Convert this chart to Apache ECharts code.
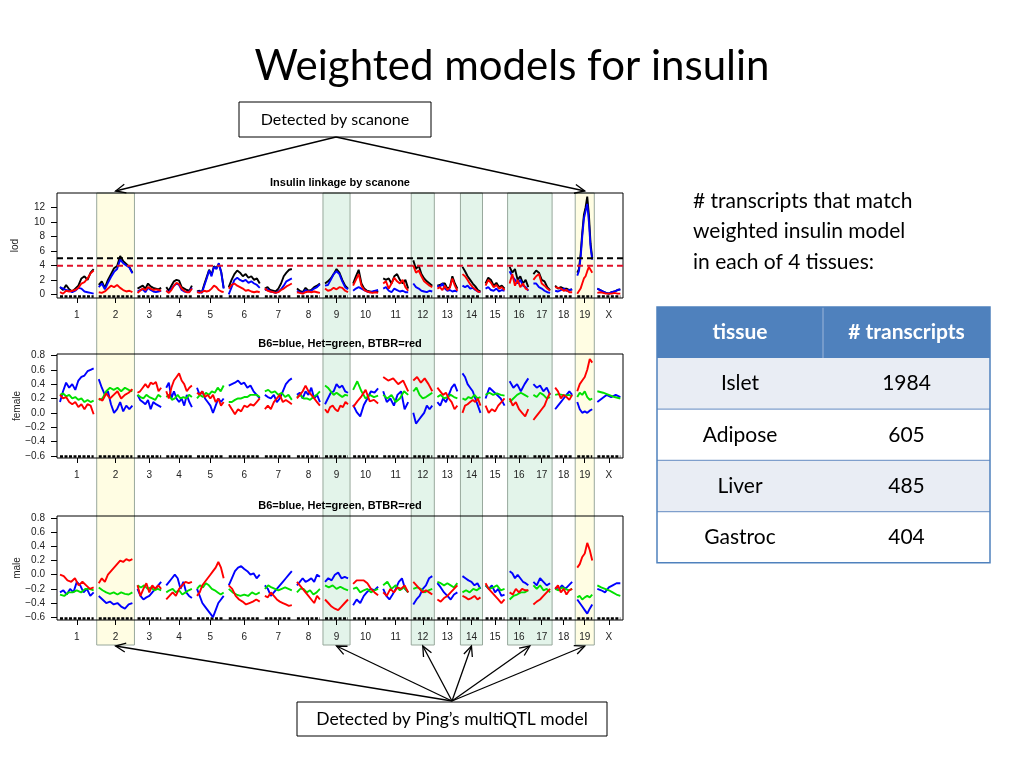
<!DOCTYPE html>
<html><head><meta charset="utf-8">
<script src="https://cdn.jsdelivr.net/npm/echarts@6/dist/echarts.min.js"></script>
<style>html,body{margin:0;padding:0;background:#fff}#c{width:1024px;height:768px}</style>
</head><body><div id="c"></div>
<script>
// ---------- DATA ----------
const chrNames = ['1','2','3','4','5','6','7','8','9','10','11','12','13','14','15','16','17','18','19','X'];
const chrLenCM = [101,101,71,77,80,93,81,69,69,75,75,57,60,54,57,56,50,51,45,69];
const gapCM = 15.3;
const lodThresholds = [5.0, 3.95];
const lodTicks = [0,2,4,6,8,10,12];
const effTicks = [-0.6,-0.4,-0.2,0,0.2,0.4,0.6,0.8];

const lodBlack = [
 [1.0,0.6,1.3,0.7,0.4,0.8,1.2,2.2,2.5,2.0,3.0,3.5],
 [1.3,1.8,0.9,2.0,2.8,3.6,3.9,5.3,4.6,4.2,3.8,3.0],
 [0.8,1.0,1.2,0.8,1.5,1.1,0.9,0.8,0.7,0.9],
 [1.0,0.5,1.2,1.8,2.0,1.9,1.0,0.8,0.6,0.5,1.2],
 [0.4,0.5,0.3,1.4,2.4,3.4,2.7,3.9,3.6,4.2,3.1,0.9],
 [1.0,2.0,2.8,3.3,3.0,2.5,2.8,2.3,2.5,2.0,2.2,1.5],
 [0.8,1.0,0.6,0.5,0.4,0.8,1.5,2.5,3.0,3.4,3.5],
 [0.8,0.5,0.3,0.9,0.5,0.6,1.0,1.2,1.5],
 [1.5,1.8,2.2,2.8,3.5,3.0,2.0,1.2,0.8],
 [1.5,2.5,3.4,1.5,0.8,0.5,0.4,0.3,0.5,0.3],
 [2.2,2.0,2.2,1.5,2.5,2.8,2.0,1.5,2.0,0.8],
 [4.7,3.5,4.0,2.8,2.2,1.8,1.5,1.2],
 [1.2,1.3,1.5,1.5,0.8,1.0,2.5,1.5,0.8],
 [3.8,3.2,2.5,2.0,1.5,1.1,0.6,0.4],
 [1.5,2.3,2.0,1.2,1.6,1.0,1.2,0.8],
 [3.8,3.0,3.5,2.0,2.5,1.5,2.0,1.0],
 [2.8,3.3,3.0,2.0,1.8,1.0,0.6],
 [1.2,0.8,1.0,0.8,0.8,0.6,0.7],
 [3.0,3.5,5.5,8.5,11.0,12.0,13.5,11.0,7.0,5.0],
 [0.8,0.6,0.4,0.2,0.1,0.3,0.4,0.6,0.7]
];
const lodBlue = [
 [1.0,0.8,0.6,0.5,0.3,0.5,0.9,0.8,0.4,0.3,0.2,0.1],
 [1.0,1.5,0.7,1.6,2.4,3.1,3.5,4.8,4.3,4.0,3.7,2.9],
 [0.4,0.6,0.7,0.3,0.9,0.6,0.4,0.3,0.4,0.5],
 [0.5,0.3,0.8,1.2,1.5,1.3,0.6,0.4,0.3,0.4,0.9],
 [0.3,0.4,0.2,1.2,2.2,3.3,2.5,3.8,3.5,4.3,3.0,0.8],
 [0.0,1.0,2.0,2.3,2.0,1.8,2.0,1.6,1.8,1.5,1.3,0.9],
 [0.6,0.7,0.4,0.3,0.2,0.4,0.7,1.2,1.8,2.0,2.2],
 [0.5,0.3,0.2,0.6,0.4,0.5,0.8,1.0,1.4],
 [1.2,1.3,2.0,2.8,3.2,2.8,1.8,1.0,0.7],
 [0.5,0.8,1.0,0.8,0.6,0.4,0.3,0.4,0.5,0.6],
 [0.8,1.0,0.5,0.3,0.8,0.6,0.4,0.5,0.3,0.3],
 [1.5,1.0,0.8,0.5,0.4,0.3,0.5,0.4],
 [1.2,1.0,1.5,0.8,0.5,0.6,0.4,0.5,0.4],
 [1.2,1.0,1.2,0.8,0.9,0.6,0.4,0.3],
 [0.8,1.0,0.6,0.5,0.8,0.4,0.6,0.5],
 [3.2,2.5,2.0,1.5,2.0,1.2,1.0,0.5],
 [1.5,1.5,1.0,0.8,0.5,0.3,0.2],
 [0.5,0.4,0.6,0.8,0.5,0.6,0.7],
 [2.6,3.2,5.0,8.0,10.5,11.5,12.5,10.0,6.5,4.8],
 [0.8,0.6,0.4,0.2,0.1,0.3,0.4,0.6,0.7]
];
const lodRed = [
 [0.3,0.1,0.5,0.4,0.5,0.6,0.9,1.5,1.7,2.2,2.9,3.3],
 [0.3,0.2,0.4,0.8,1.2,1.0,1.3,0.9,0.6,0.4,0.5,0.3],
 [0.2,0.5,0.8,0.6,1.0,0.8,0.6,0.7,0.6,0.5],
 [0.5,0.2,0.6,1.2,1.6,1.4,0.8,0.5,0.3,0.3,0.8],
 [0.3,0.2,0.3,0.5,0.4,0.5,0.8,1.2,1.0,0.6,0.4,0.3],
 [0.8,1.3,1.5,1.2,1.0,0.8,0.5,0.6,0.4,0.3,0.4,0.3],
 [0.8,0.5,0.4,0.3,0.2,0.3,0.6,0.8,1.1,1.3,1.5],
 [0.3,0.2,0.1,0.3,0.4,0.3,0.4,0.3,0.2],
 [0.8,0.5,0.6,0.9,0.7,1.0,0.9,0.5,0.3],
 [1.2,2.0,2.8,1.2,0.6,0.4,0.3,0.2,0.3,0.2],
 [1.5,1.8,0.8,1.5,2.3,1.8,1.5,2.0,1.0,0.5],
 [4.0,3.0,3.3,2.5,1.8,1.5,1.2,1.0],
 [0.8,1.0,0.6,1.2,0.6,0.9,2.2,1.2,0.5],
 [2.8,2.5,2.0,1.4,1.0,0.7,0.4,0.3],
 [1.2,2.0,1.6,1.0,1.3,0.8,1.0,0.6],
 [1.5,2.8,1.2,2.0,1.0,1.5,0.8,0.6],
 [2.0,2.5,2.8,1.5,1.2,0.8,0.5],
 [1.0,0.9,0.8,0.5,0.6,0.3,0.3],
 [0.1,0.3,0.8,1.5,2.2,2.5,3.2,3.8,3.6,3.0],
 [0.2,0.3,0.2,0.1,0.1,0.1,0.2,0.1,0.1]
];

const femBlue = [
 [0.15,0.3,0.42,0.35,0.4,0.32,0.45,0.5,0.52,0.58,0.6,0.62],
 [0.47,0.35,0.25,0.3,0.12,0.0,0.05,0.15,0.02,0.1,0.05,0.1],
 [0.25,0.18,0.15,0.12,0.18,0.05,0.15,0.12,0.1,0.08],
 [0.35,0.42,0.2,0.3,0.2,0.15,0.2,0.1,0.25,0.15,0.08],
 [0.35,0.25,0.3,0.2,0.15,0.1,0.0,0.1,0.2,0.15,0.2],
 [0.38,0.4,0.42,0.45,0.4,0.42,0.35,0.38,0.3,0.25,0.2],
 [0.25,0.22,0.2,0.25,0.15,0.2,0.3,0.4,0.45,0.48],
 [0.25,0.28,0.2,0.3,0.25,0.35,0.2,0.25,0.15],
 [0.12,0.2,0.28,0.3,0.4,0.35,0.38,0.3,0.28],
 [0.11,0.01,-0.05,0.11,0.2,0.3,0.28,0.34],
 [0.3,0.15,0.2,0.1,0.25,0.3,0.05,0.15],
 [0.0,-0.15,-0.1,-0.05,0.0,0.1,0.05,0.1],
 [0.15,0.1,0.2,0.15,0.25,0.35,0.4,0.3],
 [0.55,0.5,0.4,0.35,0.3,0.2,0.1,0.0],
 [0.2,0.35,0.3,0.25,0.2,0.1],
 [0.44,0.35,0.4,0.3,0.4,0.48],
 [0.4,0.35,0.38,0.3,0.35,0.25],
 [0.05,0.1,0.15,0.2,0.25,0.3,0.25],
 [0.15,0.05,0.0,0.02,0.0,0.03,0.05],
 [0.15,0.2,0.25,0.22,0.25,0.22]
];
const femGreen = [
 [0.25,0.27,0.23,0.25,0.2,0.22,0.18,0.2,0.15,0.18,0.15,0.17],
 [0.18,0.2,0.3,0.35,0.32,0.35,0.3,0.35,0.32,0.3],
 [0.25,0.22,0.2,0.25,0.22,0.2,0.18,0.25,0.22],
 [0.22,0.25,0.18,0.2,0.25,0.2,0.22,0.2,0.25,0.22],
 [0.2,0.25,0.22,0.28,0.25,0.3,0.28,0.35,0.3,0.38],
 [0.15,0.15,0.18,0.2,0.2,0.22,0.22,0.25,0.25,0.25,0.22],
 [0.3,0.32,0.28,0.3,0.25,0.28,0.22,0.25,0.18],
 [0.22,0.25,0.2,0.2,0.18,0.22,0.25,0.3],
 [0.38,0.35,0.3,0.25,0.28,0.25,0.22,0.25,0.24],
 [0.32,0.44,0.3,0.2,0.25,0.22,0.24],
 [0.25,0.2,0.25,0.15,0.2,0.3,0.25],
 [0.3,0.35,0.25,0.2,0.22,0.25,0.28],
 [0.22,0.25,0.2,0.22,0.25,0.22,0.2],
 [0.2,0.18,0.22,0.2,0.25,0.2,0.22],
 [0.25,0.28,0.25,0.27,0.25,0.24],
 [0.15,0.2,0.25,0.28,0.25,0.22],
 [0.25,0.22,0.28,0.25,0.2,0.22],
 [0.25,0.26,0.25,0.24,0.25,0.23],
 [0.22,0.28,0.25,0.3,0.22,0.18,0.2],
 [0.3,0.28,0.25,0.22,0.2]
];
const femRed = [
 [0.25,0.2,0.22,0.15,0.12,0.15,0.08,0.12,0.05,0.12,0.1,-0.02],
 [0.2,0.17,0.27,0.2,0.25,0.3,0.2,0.25,0.28,0.33],
 [0.28,0.3,0.35,0.4,0.35,0.42,0.4,0.43,0.3,0.35],
 [0.3,0.2,0.35,0.45,0.5,0.55,0.45,0.4,0.3,0.35,0.38],
 [0.28,0.25,0.3,0.22,0.25,0.2,0.25,0.15,0.2,0.1,0.15],
 [0.12,0.05,-0.02,0.05,0.02,0.1,0.08,0.12,0.1,0.15,0.2],
 [0.05,0.1,0.05,0.15,0.2,0.25,0.15,0.18,0.15,0.12],
 [0.2,0.25,0.3,0.38,0.3,0.25,0.2,0.15,0.1],
 [0.05,0.0,0.08,0.1,0.05,0.02,0.1,0.08,0.15,0.12],
 [0.08,0.16,0.23,0.32,0.16,0.18,0.13],
 [0.5,0.45,0.48,0.4,0.45,0.3],
 [0.45,0.5,0.42,0.48,0.4,0.3],
 [0.35,0.3,0.25,0.28,0.2,0.15,0.05,0.1],
 [0.0,0.1,0.12,0.15,0.18,0.15,0.2,0.1],
 [0.1,0.0,0.05,0.02,0.1,0.15,0.2],
 [0.2,0.1,0.15,0.05,0.0,-0.05,0.05],
 [-0.1,-0.05,0.0,0.05,0.1,0.2,0.28],
 [0.35,0.3,0.2,0.25,0.22,0.18,0.25],
 [0.3,0.4,0.45,0.5,0.6,0.75,0.7],
 null
];

const malBlue = [
 [-0.25,-0.22,-0.28,-0.2,-0.25,-0.1,-0.15,-0.25,-0.2,-0.3,-0.25],
 [-0.3,-0.35,-0.4,-0.38,-0.42,-0.4,-0.45,-0.48,-0.42,-0.4],
 [-0.2,-0.3,-0.35,-0.32,-0.3,-0.25,-0.2,-0.15,-0.1],
 [-0.15,-0.1,-0.05,0.0,-0.05,-0.2,-0.1,-0.25,-0.3,-0.33],
 [-0.2,-0.3,-0.4,-0.45,-0.5,-0.55,-0.6,-0.5,-0.4,-0.35,-0.3],
 [-0.15,-0.05,0.05,0.1,0.12,0.08,0.05,0.0,0.02,-0.05,0.0],
 [-0.15,-0.2,-0.3,-0.25,-0.2,-0.15,-0.1,-0.05,0.0,0.05],
 [-0.15,-0.1,-0.05,-0.1,-0.08,-0.05,-0.1,0.0,-0.03],
 [-0.1,-0.05,-0.08,0.0,0.03,-0.05,-0.03,-0.05],
 [-0.43,-0.35,-0.4,-0.3,-0.24,-0.2,-0.22,-0.17],
 [-0.2,-0.3,-0.35,-0.28,-0.2,-0.1,-0.05,-0.2,-0.25],
 [-0.42,-0.35,-0.3,-0.2,-0.15,-0.05,-0.02],
 [-0.12,-0.18,-0.25,-0.3,-0.35,-0.28,-0.25],
 [-0.02,-0.05,-0.08,-0.1,-0.15,-0.12,-0.2],
 [-0.15,-0.2,-0.15,-0.25,-0.2,-0.3,-0.28],
 [0.05,0.02,-0.05,0.0,-0.05,-0.1,-0.12,-0.15],
 [-0.1,-0.15,-0.05,-0.1,-0.15,-0.12],
 [-0.18,-0.22,-0.15,-0.2,-0.15,-0.1],
 [-0.35,-0.4,-0.45,-0.5,-0.55,-0.48,-0.42],
 [-0.2,-0.22,-0.25,-0.18,-0.15,-0.12,-0.12]
];
const malGreen = [
 [-0.28,-0.3,-0.25,-0.25,-0.22,-0.25,-0.2,-0.2,-0.22],
 [-0.18,-0.22,-0.25,-0.27,-0.25,-0.28,-0.25,-0.27,-0.28,-0.25],
 [-0.15,-0.18,-0.15,-0.2,-0.18,-0.22,-0.2,-0.22],
 [-0.25,-0.22,-0.2,-0.25,-0.22,-0.28,-0.25,-0.22,-0.2],
 [-0.2,-0.15,-0.18,-0.12,-0.15,-0.2,-0.22,-0.25,-0.28,-0.25],
 [-0.2,-0.25,-0.28,-0.3,-0.28,-0.3,-0.25,-0.28,-0.25],
 [-0.2,-0.15,-0.18,-0.2,-0.22,-0.2,-0.18,-0.2,-0.22],
 [-0.25,-0.2,-0.2,-0.25,-0.22,-0.28,-0.25,-0.2],
 [-0.15,-0.18,-0.15,-0.2,-0.17,-0.2,-0.22],
 [-0.2,-0.18,-0.25,-0.22,-0.2,-0.25,-0.22,-0.2],
 [-0.15,-0.1,-0.2,-0.15,-0.22,-0.18,-0.25],
 [-0.2,-0.18,-0.2,-0.25,-0.22,-0.2],
 [-0.1,-0.12,-0.15,-0.12,-0.15,-0.18,-0.12],
 [-0.25,-0.22,-0.25,-0.2,-0.22,-0.18],
 [-0.15,-0.2,-0.18,-0.15,-0.22,-0.2],
 [-0.35,-0.3,-0.28,-0.25,-0.25,-0.22],
 [-0.15,-0.2,-0.15,-0.22,-0.2,-0.25],
 [-0.2,-0.22,-0.18,-0.2,-0.22,-0.2],
 [-0.32,-0.3,-0.35,-0.32,-0.3,-0.32,-0.28],
 [-0.15,-0.18,-0.2,-0.22,-0.25,-0.28,-0.3]
];
const malRed = [
 [0.0,-0.02,-0.08,-0.1,-0.05,-0.15,-0.1,-0.15,-0.2,-0.18],
 [-0.12,-0.05,-0.1,0.0,0.05,0.1,0.15,0.2,0.18,0.22,0.2,0.22],
 [-0.15,-0.3,-0.2,-0.12,-0.25,-0.15,-0.2,-0.15,-0.2],
 [-0.35,-0.3,-0.25,-0.3,-0.2,-0.15,-0.1,-0.12,-0.1],
 [-0.3,-0.25,-0.15,-0.1,-0.05,0.0,0.05,0.1,0.18,0.1,-0.05],
 [-0.15,-0.2,-0.3,-0.35,-0.38,-0.42,-0.4,-0.38,-0.35,-0.38],
 [-0.3,-0.32,-0.25,-0.3,-0.35,-0.38,-0.4,-0.42,-0.44,-0.43],
 [-0.1,-0.15,-0.2,-0.25,-0.3,-0.35,-0.4,-0.3,-0.35],
 [-0.35,-0.4,-0.45,-0.48,-0.5,-0.45,-0.4,-0.35],
 [-0.13,-0.08,-0.08,-0.08,-0.12,-0.2,-0.25,-0.29],
 [-0.25,-0.3,-0.2,-0.25,-0.18,-0.2,-0.15,-0.25],
 [-0.1,-0.15,-0.2,-0.25,-0.22,-0.25,-0.28],
 [-0.35,-0.38,-0.33,-0.3,-0.25,-0.2,-0.15],
 [-0.3,-0.32,-0.35,-0.33,-0.3,-0.35,-0.32],
 [-0.12,-0.2,-0.25,-0.3,-0.35,-0.4,-0.35],
 [-0.25,-0.28,-0.2,-0.25,-0.2,-0.22,-0.22],
 [-0.42,-0.38,-0.35,-0.3,-0.25,-0.2],
 [-0.2,-0.15,-0.25,-0.2,-0.28,-0.22,-0.2],
 [0.1,0.15,0.25,0.3,0.45,0.35,0.2],
 null
];

const highlightBands = [
 {chrs:['2'], kind:'yellow'}, {chrs:['9'], kind:'green'}, {chrs:['12'], kind:'green'},
 {chrs:['14'], kind:'green'}, {chrs:['16','17'], kind:'green'}, {chrs:['19'], kind:'yellow'}
];
const scanoneChrs = ['2','19'];
const panelTitles = ['Insulin linkage by scanone', 'B6=blue, Het=green, BTBR=red', 'B6=blue, Het=green, BTBR=red'];
const panelYNames = ['lod', 'female', 'male'];
const titleText = 'Weighted models for insulin';
const scanoneLabel = 'Detected by scanone';
const multiLabel = 'Detected by Ping\u2019s multiQTL model';
const noteLines = ['# transcripts that match', 'weighted insulin model', 'in each of 4 tissues:'];
const tableHeader = ['tissue', '# transcripts'];
const tissues = ['Islet', 'Adipose', 'Liver', 'Gastroc'];
const transcripts = [1984, 605, 485, 404];

// ---------- BUILD ----------
const chrStart = [];
let acc = 0;
chrLenCM.forEach(L => { chrStart.push(acc); acc += L + gapCM; });
const chrEnd = chrStart.map((s, i) => s + chrLenCM[i]);
const chrCenter = chrStart.map((s, i) => s + chrLenCM[i] / 2);
const xMin = -9, xMax = chrEnd[chrEnd.length - 1] + 8;

function nearestChr(v) {
  let best = 0, bd = Infinity;
  chrCenter.forEach((c, i) => { const d = Math.abs(c - v); if (d < bd) { bd = d; best = i; } });
  return best;
}
function curve(vals, i) {
  const n = vals.length;
  return vals.map((v, k) => [chrStart[i] + chrLenCM[i] * k / (n - 1), v]);
}

const RF = 'Liberation Sans';
const SF = 'Lato';
const grids = [
  {left: 57, top: 193, width: 566, height: 105},
  {left: 57, top: 354, width: 566, height: 104},
  {left: 57, top: 516, width: 566, height: 104}
];
const yRanges = [[-0.5, 14], [-0.63, 0.82], [-0.64, 0.83]];
const rugY = [-0.3, -0.61, -0.62];
const nameGaps = [37, 35, 35];

const series = [];
function addCurves(arr, color, g) {
  arr.forEach((vals, i) => {
    if (!vals) return;
    series.push({type: 'line', xAxisIndex: g, yAxisIndex: g, data: curve(vals, i), symbol: 'none',
      lineStyle: {color: color, width: 1.9}, silent: true, z: 3});
  });
}
[0,1,2].forEach(g => {
  chrNames.forEach((n, i) => {
    series.push({type: 'line', xAxisIndex: g, yAxisIndex: g,
      data: [[chrStart[i], rugY[g]], [chrEnd[i], rugY[g]]], symbol: 'none',
      lineStyle: {color: '#000', width: 2.5, type: [3, 1.5]}, silent: true, z: 2});
  });
});
addCurves(lodBlack, '#000000', 0);
addCurves(lodBlue, '#0000FF', 0);
addCurves(lodRed, '#FF0000', 0);
addCurves(femBlue, '#0000FF', 1);
addCurves(femGreen, '#00E000', 1);
addCurves(femRed, '#FF0000', 1);
addCurves(malBlue, '#0000FF', 2);
addCurves(malGreen, '#00E000', 2);
addCurves(malRed, '#FF0000', 2);
const thrColors = ['#000000', '#E0102A'];
lodThresholds.forEach((t, k) => {
  series.push({type: 'line', xAxisIndex: 0, yAxisIndex: 0, data: [[xMin, t], [xMax, t]], symbol: 'none',
    lineStyle: {color: thrColors[k], width: 2, type: [6, 4]}, silent: true, z: 5});
});

const xAxes = [0,1,2].map(g => ({
  type: 'value', gridIndex: g, min: xMin, max: xMax, position: 'bottom',
  axisLine: {show: false, onZero: false}, splitLine: {show: false},
  axisTick: {show: true, customValues: chrCenter, length: 5, lineStyle: {color: '#000'}},
  axisLabel: {customValues: chrCenter, formatter: v => chrNames[nearestChr(v)], margin: 12,
    fontSize: 10, color: '#222', fontFamily: RF}
}));
const effFmt = v => (v < -1e-9 ? '\u2212' : '') + Math.abs(v).toFixed(1);
const yAxes = [0,1,2].map(g => ({
  type: 'value', gridIndex: g, min: yRanges[g][0], max: yRanges[g][1], position: 'left',
  name: panelYNames[g], nameLocation: 'middle', nameGap: nameGaps[g], nameRotate: 90, nameMoveOverlap: false,
  nameTextStyle: {fontSize: 10, fontFamily: RF, color: '#222'},
  axisLine: {show: false, onZero: false}, splitLine: {show: false},
  axisTick: {show: true, customValues: g === 0 ? lodTicks : effTicks, length: 6, lineStyle: {color: '#000'}},
  axisLabel: {customValues: g === 0 ? lodTicks : effTicks, formatter: g === 0 ? (v => String(Math.round(v))) : effFmt,
    margin: 12, fontSize: 10, color: '#222', fontFamily: RF}
}));

const chart = echarts.init(document.getElementById('c'), null, {renderer: 'canvas'});
chart.setOption({
  animation: false,
  backgroundColor: '#ffffff',
  grid: grids.map(g => Object.assign({show: true, borderColor: '#000', borderWidth: 1, backgroundColor: 'transparent',
    containLabel: false, outerBoundsMode: 'none'}, g)),
  xAxis: xAxes, yAxis: yAxes, series: series
});

// ---------- ANNOTATIONS (positions from the axes) ----------
const px = v => chart.convertToPixel({xAxisIndex: 0}, v);
const topY = chart.convertToPixel({yAxisIndex: 0}, yRanges[0][1]);
const botY = chart.convertToPixel({yAxisIndex: 2}, yRanges[2][0]) + 25;
const pad = gapCM * 0.4;
const G = [];
const bandInfo = highlightBands.map(b => {
  const idx = b.chrs.map(c => chrNames.indexOf(c));
  const x1 = px(chrStart[Math.min(...idx)] - pad), x2 = px(chrEnd[Math.max(...idx)] + pad);
  return {x1, x2, cx: (x1 + x2) / 2, kind: b.kind, chrs: b.chrs};
});
bandInfo.forEach(b => {
  G.push({type: 'rect', z: -5, silent: true, shape: {x: b.x1, y: topY, width: b.x2 - b.x1, height: botY - topY},
    style: {fill: b.kind === 'yellow' ? '#FFFDE3' : '#E3F4EA', stroke: '#98A89C', lineWidth: 1}});
});
function txt(x, y, text, size, opts) {
  return {type: 'text', x: x, y: y, z: 100, silent: true,
    style: Object.assign({text: text, fontSize: size, fontFamily: SF, fill: '#000', align: 'center', verticalAlign: 'middle'}, opts || {})};
}
function arrow(x1, y1, x2, y2) {
  const a = Math.atan2(y2 - y1, x2 - x1), L = 11, w = 0.42;
  G.push({type: 'line', z: 100, silent: true, shape: {x1, y1, x2, y2}, style: {stroke: '#000', lineWidth: 1.3}});
  G.push({type: 'polyline', z: 100, silent: true,
    shape: {points: [[x2 - L * Math.cos(a - w), y2 - L * Math.sin(a - w)], [x2, y2], [x2 - L * Math.cos(a + w), y2 - L * Math.sin(a + w)]]},
    style: {stroke: '#000', fill: null, lineWidth: 1.3}});
}
// slide title
G.push(txt(512, 66, titleText, 42));
// R panel titles
[0,1,2].forEach(g => {
  const y = grids[g].top - 10;
  G.push(txt(grids[g].left + grids[g].width / 2, y, panelTitles[g], 11, {fontFamily: RF, fontWeight: 'bold'}));
});
// scanone box
G.push({type: 'rect', z: 100, silent: true, shape: {x: 239, y: 102, width: 192, height: 35}, style: {fill: '#fff', stroke: '#000', lineWidth: 1}});
G.push(txt(335, 120, scanoneLabel, 16));
bandInfo.filter(b => b.chrs.some(c => scanoneChrs.includes(c))).forEach(b => arrow(336, 137, b.cx, topY - 2));
// multiQTL box
G.push({type: 'rect', z: 100, silent: true, shape: {x: 297, y: 702, width: 310, height: 34}, style: {fill: '#fff', stroke: '#000', lineWidth: 1}});
G.push(txt(452, 719, multiLabel, 17.5));
bandInfo.forEach(b => arrow(452, 701, b.cx, botY + 1));
// note
noteLines.forEach((l, i) => G.push(txt(693, 201 + i * 30.5, l, 21, {align: 'left'})));
// table
const tL = 657, tR = 990, tMid = 823, tTop = 307, hH = 51, rH = 51.2;
G.push({type: 'rect', z: 90, silent: true, shape: {x: tL, y: tTop, width: tR - tL, height: hH}, style: {fill: '#4F81BD'}});
tissues.forEach((t, i) => {
  const y = tTop + hH + i * rH;
  G.push({type: 'rect', z: 90, silent: true, shape: {x: tL, y: y, width: tR - tL, height: rH}, style: {fill: i % 2 === 0 ? '#E9EDF4' : '#FFFFFF'}});
  if (i > 0) G.push({type: 'line', z: 95, silent: true, shape: {x1: tL, y1: y, x2: tR, y2: y}, style: {stroke: '#7F9FCC', lineWidth: 1.2}});
  G.push(txt((tL + tMid) / 2, y + rH / 2, t, 21));
  G.push(txt((tMid + tR) / 2, y + rH / 2, String(transcripts[i]), 21));
});
G.push({type: 'line', z: 95, silent: true, shape: {x1: tMid, y1: tTop, x2: tMid, y2: tTop + hH}, style: {stroke: '#9DB5D9', lineWidth: 1}});
G.push({type: 'rect', z: 96, silent: true, shape: {x: tL, y: tTop, width: tR - tL, height: hH + tissues.length * rH}, style: {fill: null, stroke: '#4F81BD', lineWidth: 1.5}});
G.push(txt((tL + tMid) / 2, tTop + hH / 2, tableHeader[0], 21, {fill: '#fff', fontWeight: 'bold'}));
G.push(txt((tMid + tR) / 2, tTop + hH / 2, tableHeader[1], 21, {fill: '#fff', fontWeight: 'bold'}));

chart.setOption({graphic: {elements: G}});
</script></body></html>
